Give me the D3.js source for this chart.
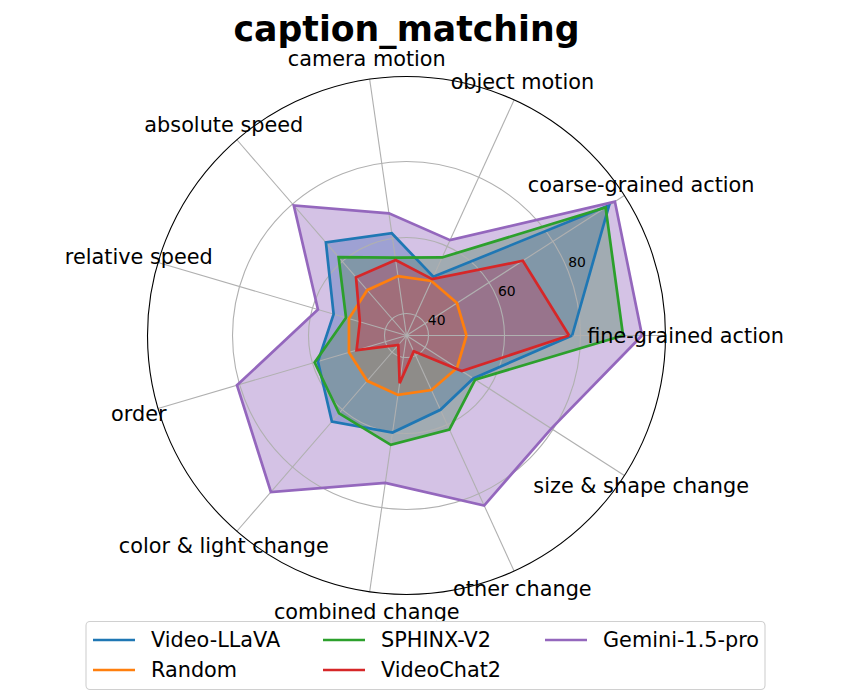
<!DOCTYPE html>
<html>
<head>
<meta charset="utf-8">
<script src="https://cdn.jsdelivr.net/npm/d3@7"></script>
<style>
  html, body { margin: 0; padding: 0; background: #fff; }
  svg { display: block; font-family: "DejaVu Sans", sans-serif; }
</style>
</head>
<body>
<svg id="chart" width="850" height="700"></svg>
<script>
const title = "caption_matching";
const categories = ["fine-grained action", "coarse-grained action", "object motion", "camera motion",
  "absolute speed", "relative speed", "order", "color & light change", "combined change",
  "other change", "size & shape change"];
const seriesNames = ["Video-LLaVA", "Random", "SPHINX-V2", "VideoChat2", "Gemini-1.5-pro"];
const videoLLaVA = [77.8, 97.6, 51.2, 61.4, 66.6, 54.2, 58.5, 64.2, 60.0, 55.7, 55.1];
const randomBase = [50, 50, 50, 50, 50, 50, 50, 50, 50, 50, 50];
const sphinxV2   = [91.2, 96.5, 56.8, 54.9, 61.5, 50.8, 59.4, 61.3, 63.3, 61.4, 55.7];
const videoChat2 = [77.0, 70.6, 50.5, 54.3, 54.5, 47.0, 47.9, 37.5, 46.9, 38.8, 51.5];
const gemini     = [96.2, 99.4, 61.8, 66.7, 79.5, 58.5, 80.7, 88.7, 73.4, 83.4, 79.5];
const radialTicks = [40, 60, 80];
const radialLimits = [34.21, 102.37];
const colors = ["#1f77b4", "#ff7f0e", "#2ca02c", "#d62728", "#9467bd"];

const seriesValues = [videoLLaVA, randomBase, sphinxV2, videoChat2, gemini];

const svg = d3.select("#chart");
const cx = 406.5, cy = 335.5, R = 259;
const r = d3.scaleLinear().domain(radialLimits).range([0, R]);
const angle = d3.scaleLinear().domain([0, categories.length]).range([0, 2 * Math.PI]);
const px = (i, v) => cx + r(v) * Math.cos(angle(i));
const py = (i, v) => cy - r(v) * Math.sin(angle(i));

const g = svg.append("g");

// fills
seriesValues.forEach((vals, s) => {
  const pts = vals.map((v, i) => [px(i, v), py(i, v)]);
  g.append("polygon")
    .attr("points", pts.map(p => p.join(",")).join(" "))
    .attr("fill", colors[s]).attr("fill-opacity", 0.4).attr("stroke", "none");
});

// grid
radialTicks.forEach(t => {
  g.append("circle").attr("cx", cx).attr("cy", cy).attr("r", r(t))
    .attr("fill", "none").attr("stroke", "#b0b0b0").attr("stroke-width", 1.1);
});
categories.forEach((c, i) => {
  g.append("line").attr("x1", cx).attr("y1", cy)
    .attr("x2", cx + R * Math.cos(angle(i))).attr("y2", cy - R * Math.sin(angle(i)))
    .attr("stroke", "#b0b0b0").attr("stroke-width", 1.1);
});

// lines
seriesValues.forEach((vals, s) => {
  const pts = vals.map((v, i) => [px(i, v), py(i, v)]);
  pts.push(pts[0]);
  g.append("path").attr("d", d3.line()(pts))
    .attr("fill", "none").attr("stroke", colors[s]).attr("stroke-width", 2.7)
    .attr("stroke-linejoin", "miter");
});

// outer circle
g.append("circle").attr("cx", cx).attr("cy", cy).attr("r", R)
  .attr("fill", "none").attr("stroke", "#000").attr("stroke-width", 1.1);

// radial tick labels
const la = 22.5 * Math.PI / 180;
radialTicks.forEach(t => {
  g.append("text").attr("x", cx + r(t) * Math.cos(la) + 1).attr("y", cy - r(t) * Math.sin(la) - 2)
    .attr("font-size", 13.9).attr("fill", "#000").text(t);
});

// category labels
categories.forEach((c, i) => {
  g.append("text").attr("x", cx + 279 * Math.cos(angle(i))).attr("y", cy - 279 * Math.sin(angle(i)))
    .attr("text-anchor", "middle").attr("dominant-baseline", "central")
    .attr("font-size", 20.8).attr("fill", "#000").text(c);
});

// title
svg.append("text").attr("x", 406.5).attr("y", 41).attr("text-anchor", "middle")
  .attr("font-size", 34.7).attr("font-weight", "bold")
  .text(title);

// legend
const lg = svg.append("g");
lg.append("rect").attr("x", 86).attr("y", 621.5).attr("width", 679).attr("height", 68)
  .attr("rx", 4).attr("fill", "#fff").attr("stroke", "#d0d0d0").attr("stroke-width", 1.1);
const colX = [93, 323, 545];
const rowY = [640, 670];
seriesNames.forEach((n, k) => {
  const col = Math.floor(k / 2), row = k % 2;
  const x = colX[col], y = rowY[row];
  lg.append("line").attr("x1", x).attr("x2", x + 42).attr("y1", y).attr("y2", y)
    .attr("stroke", colors[k]).attr("stroke-width", 2.7);
  lg.append("text").attr("x", x + 58).attr("y", y).attr("dominant-baseline", "central")
    .attr("font-size", 20.8).text(n);
});
</script>
</body>
</html>
